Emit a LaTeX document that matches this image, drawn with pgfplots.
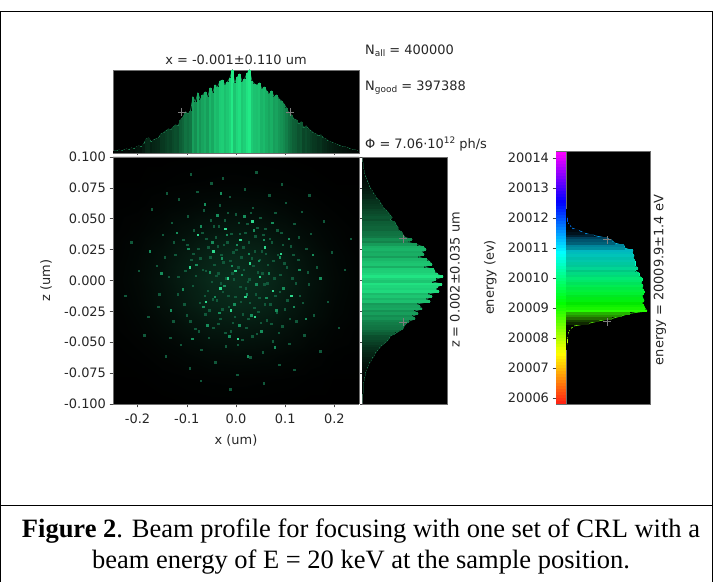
\documentclass[border=0pt]{standalone}
\usepackage{fontspec}
\setmainfont{DejaVu Sans}
\newfontfamily\capfont{Liberation Serif}
\usepackage{pgfplots}
\usepackage{pgfplotstable}
\pgfplotsset{compat=1.18}
\definecolor{spine}{RGB}{110,110,110}
\definecolor{tk}{RGB}{70,70,70}
\definecolor{outl}{RGB}{28,135,85}
\definecolor{speckA}{RGB}{16,88,58}
\definecolor{speckB}{RGB}{22,140,90}
\definecolor{speckC}{RGB}{45,215,140}
\definecolor{crossc}{RGB}{125,125,125}
\pgfdeclareplotmark{vbar}{\pgfpathrectangle{\pgfpoint{-1.35bp}{-\barlen bp}}{\pgfpoint{2.7bp}{\barlen bp}}\pgfusepathqfill}
\pgfdeclareplotmark{hbar}{\pgfpathrectangle{\pgfpoint{-\barlen bp}{-1.35bp}}{\pgfpoint{\barlen bp}{2.7bp}}\pgfusepathqfill}
\pgfdeclareplotmark{ebar}{\pgfpathrectangle{\pgfpoint{-\barlen bp}{-1.45bp}}{\pgfpoint{\barlen bp}{2.9bp}}\pgfusepathqfill}
\pgfplotstableread[row sep=\\]{x n\\
-0.2475 2\\-0.2425 2\\-0.2375 3\\-0.2325 2\\-0.2275 3\\-0.2225 4\\-0.2175 3\\-0.2125 5\\-0.2075 4\\-0.2025 6\\
-0.1975 7\\-0.1925 6\\-0.1875 9\\-0.1825 14\\-0.1775 15\\-0.1725 11\\-0.1675 13\\-0.1625 14\\-0.1575 15\\-0.1525 19\\
-0.1475 20\\-0.1425 22\\-0.1375 24\\-0.1325 23\\-0.1275 26\\-0.1225 28\\-0.1175 27\\-0.1125 33\\-0.1075 36\\-0.1025 41\\
-0.0975 39\\-0.0925 42\\-0.0875 56\\-0.0825 51\\-0.0775 60\\-0.0725 53\\-0.0675 58\\-0.0625 61\\-0.0575 56\\-0.0525 65\\
-0.0475 60\\-0.0425 68\\-0.0375 66\\-0.0325 72\\-0.0275 73\\-0.0225 68\\-0.0175 71\\-0.0125 75\\-0.0075 83\\-0.0025 70\\
0.0025 76\\0.0075 79\\0.0125 71\\0.0175 74\\0.0225 80\\0.0275 83\\0.0325 72\\0.0375 69\\0.0425 68\\0.0475 70\\
0.0525 64\\0.0575 66\\0.0625 62\\0.0675 59\\0.0725 62\\0.0775 56\\0.0825 58\\0.0875 54\\0.0925 52\\0.0975 49\\
0.1025 45\\0.1075 40\\0.1125 38\\0.1175 34\\0.1225 33\\0.1275 29\\0.1325 31\\0.1375 25\\0.1425 27\\0.1475 24\\
0.1525 22\\0.1575 20\\0.1625 19\\0.1675 17\\0.1725 18\\0.1775 15\\0.1825 14\\0.1875 12\\0.1925 11\\0.1975 10\\
0.2025 9\\0.2075 8\\0.2125 7\\0.2175 6\\0.2225 6\\0.2275 5\\0.2325 4\\0.2375 3\\0.2425 3\\0.2475 2\\
}\tophist
\pgfplotstableread[row sep=\\]{z n\\
0.099 0\\0.097 0\\0.095 1\\0.093 1\\0.091 1\\0.089 2\\0.087 2\\0.085 3\\0.083 4\\0.081 5\\
0.079 6\\0.077 7\\0.075 8\\0.073 10\\0.071 11\\0.069 13\\0.067 14\\0.065 17\\0.063 18\\0.061 20\\
0.059 21\\0.057 24\\0.055 26\\0.053 28\\0.051 30\\0.049 28\\0.047 33\\0.045 34\\0.043 36\\0.041 36\\
0.039 40\\0.037 41\\0.035 43\\0.033 50\\0.031 46\\0.029 55\\0.027 62\\0.025 64\\0.023 60\\0.021 62\\
0.019 56\\0.017 65\\0.015 68\\0.013 70\\0.011 62\\0.009 72\\0.007 73\\0.005 76\\0.003 81\\0.001 74\\
-0.001 70\\-0.003 80\\-0.005 76\\-0.007 74\\-0.009 77\\-0.011 66\\-0.013 70\\-0.015 64\\-0.017 68\\-0.019 55\\
-0.021 58\\-0.023 60\\-0.025 52\\-0.027 56\\-0.029 50\\-0.031 53\\-0.033 47\\-0.035 44\\-0.037 42\\-0.039 41\\
-0.041 37\\-0.043 33\\-0.045 28\\-0.047 27\\-0.049 25\\-0.051 22\\-0.053 19\\-0.055 17\\-0.057 15\\-0.059 13\\
-0.061 12\\-0.063 10\\-0.065 9\\-0.067 7\\-0.069 6\\-0.071 5\\-0.073 4\\-0.075 3\\-0.077 3\\-0.079 2\\
-0.081 2\\-0.083 1\\-0.085 1\\-0.087 1\\-0.089 1\\-0.091 1\\-0.093 0\\-0.095 0\\-0.097 0\\-0.099 0\\
}\righthist
\pgfplotstableread[row sep=\\]{E n\\
20007.65 0.5\\20007.73 0.5\\20007.82 1\\20007.90 1\\20007.98 1\\20008.07 1.5\\20008.15 2\\20008.24 3\\20008.32 5\\20008.40 8\\
20008.49 23\\20008.57 33\\20008.65 46\\20008.74 56\\20008.82 64\\20008.90 81\\20008.99 79\\20009.07 78\\20009.15 76\\20009.24 78\\
20009.32 77\\20009.41 76\\20009.49 78\\20009.57 78\\20009.66 76\\20009.74 77\\20009.82 75\\20009.91 76\\20009.99 76\\20010.07 73\\
20010.16 73\\20010.24 69\\20010.32 72\\20010.41 69\\20010.49 69\\20010.58 69\\20010.66 67\\20010.74 68\\20010.83 66\\20010.91 67\\
20010.99 59\\20011.08 58\\20011.16 49\\20011.24 46\\20011.33 41\\20011.41 28\\20011.49 19\\20011.58 13\\20011.66 6\\20011.75 4\\
20011.83 2\\20011.91 1\\20012.00 1\\20012.08 0.5\\20012.16 0.5\\20012.25 0.3\\
}\ehist
\pgfplotstableread[row sep=\\]{E L\\
20005.85 10\\20005.95 10\\20006.05 10\\20006.15 10\\20006.25 10\\20006.35 10\\20006.45 10\\20006.55 10\\20006.65 10\\20006.75 10\\20006.85 10\\20006.95 10\\
20007.05 10\\20007.15 10\\20007.25 10\\20007.35 10\\20007.45 10\\20007.55 10\\20007.65 10\\20007.75 10\\20007.85 10\\20007.95 10\\20008.05 10\\20008.15 10\\
20008.25 10\\20008.35 10\\20008.45 10\\20008.55 10\\20008.65 10\\20008.75 10\\20008.85 10\\20008.95 10\\20009.05 10\\20009.15 10\\20009.25 10\\20009.35 10\\
20009.45 10\\20009.55 10\\20009.65 10\\20009.75 10\\20009.85 10\\20009.95 10\\20010.05 10\\20010.15 10\\20010.25 10\\20010.35 10\\20010.45 10\\20010.55 10\\
20010.65 10\\20010.75 10\\20010.85 10\\20010.95 10\\20011.05 10\\20011.15 10\\20011.25 10\\20011.35 10\\20011.45 10\\20011.55 10\\20011.65 10\\20011.75 10\\
20011.85 10\\20011.95 10\\20012.05 10\\20012.15 10\\20012.25 10\\20012.35 10\\20012.45 10\\20012.55 10\\20012.65 10\\20012.75 10\\20012.85 10\\20012.95 10\\
20013.05 10\\20013.15 10\\20013.25 10\\20013.35 10\\20013.45 10\\20013.55 10\\20013.65 10\\20013.75 10\\20013.85 10\\20013.95 10\\20014.05 10\\20014.15 10\\
}\estrip
\pgfplotsset{
  base/.style={scale only axis, axis background/.style={fill=black},
    axis line style={spine, line width=0.8pt},
    tick style={tk, line width=0.6pt},
    tick align=outside, major tick length=3.5bp,
    xtick pos=bottom, ytick pos=left,
    tick label style={font=\fontsize{13}{15}\selectfont, text=black!85},
    label style={font=\fontsize{13}{15}\selectfont, text=black!85},
    /pgf/number format/assume math mode=true,
    colormap={gr}{rgb255=(0,0,0) rgb255=(34,235,135)},
    colormap={bg}{rgb255=(0,0,0) rgb255=(9,46,29)},
    colormap={rb}{rgb255=(255,30,20) rgb255=(255,255,0) rgb255=(0,255,0) rgb255=(0,255,255) rgb255=(0,0,255) rgb255=(255,0,255)},
  },
  bars/.style={scatter, only marks, mark=#1, point meta=\thisrow{n},
    point meta min=0, point meta max=84,
    visualization depends on={\thisrow{n} \as \barlen},
    scatter/use mapped color={draw=none, fill=mapped color}},
  speck/.style={only marks, mark=square*, mark size=0.75bp, mark options={draw=#1,fill=#1,line width=0.1pt}},
}
\begin{document}
\begin{tikzpicture}[x=1bp,y=1bp]
\path[use as bounding box] (0,0) rectangle (713,582);
\fill[white] (0,0) rectangle (713,582);
% main scatter
\begin{axis}[base, at={(113bp,178bp)}, anchor=south west, width=246bp, height=247bp,
  xmin=-0.25, xmax=0.25, ymin=-0.1, ymax=0.1,
  xtick={-0.2,-0.1,0,0.1,0.2}, xticklabels={-0.2,-0.1,0.0,0.1,0.2},
  xticklabel style={yshift=-2.5bp},
  ytick={-0.1,-0.075,-0.05,-0.025,0,0.025,0.05,0.075,0.1},
  yticklabels={-0.100,-0.075,-0.050,-0.025,0.000,0.025,0.050,0.075,0.100},
  xlabel={x (um)}, ylabel={z (um)},
  xlabel style={at={(axis description cs:0.5,-0.146)},anchor=center},
  ylabel style={at={(axis description cs:-0.272,0.5)},anchor=center},
  colormap name=bg, view={0}{90}]
\addplot3[surf, shader=interp, mesh/rows=11, point meta=z] table[row sep=\\]{x y z\\
-0.25 -0.1 0\\-0.2 -0.1 0\\-0.15 -0.1 0\\-0.1 -0.1 1\\-0.05 -0.1 2\\0 -0.1 2\\0.05 -0.1 2\\0.1 -0.1 1\\0.15 -0.1 0\\0.2 -0.1 0\\0.25 -0.1 0\\
-0.25 -0.08 1\\-0.2 -0.08 1\\-0.15 -0.08 3\\-0.1 -0.08 5\\-0.05 -0.08 6\\0 -0.08 7\\0.05 -0.08 6\\0.1 -0.08 5\\0.15 -0.08 3\\0.2 -0.08 1\\0.25 -0.08 1\\
-0.25 -0.06 2\\-0.2 -0.06 4\\-0.15 -0.06 9\\-0.1 -0.06 15\\-0.05 -0.06 21\\0 -0.06 23\\0.05 -0.06 21\\0.1 -0.06 15\\0.15 -0.06 9\\0.2 -0.06 4\\0.25 -0.06 2\\
-0.25 -0.04 4\\-0.2 -0.04 10\\-0.15 -0.04 20\\-0.1 -0.04 34\\-0.05 -0.04 47\\0 -0.04 52\\0.05 -0.04 47\\0.1 -0.04 34\\0.15 -0.04 20\\0.2 -0.04 10\\0.25 -0.04 4\\
-0.25 -0.02 6\\-0.2 -0.02 16\\-0.15 -0.02 33\\-0.1 -0.02 56\\-0.05 -0.02 77\\0 -0.02 85\\0.05 -0.02 77\\0.1 -0.02 56\\0.15 -0.02 33\\0.2 -0.02 16\\0.25 -0.02 6\\
-0.25 0 8\\-0.2 0 19\\-0.15 0 39\\-0.1 0 66\\-0.05 0 90\\0 0 100\\0.05 0 90\\0.1 0 66\\0.15 0 39\\0.2 0 19\\0.25 0 8\\
-0.25 0.02 6\\-0.2 0.02 16\\-0.15 0.02 33\\-0.1 0.02 56\\-0.05 0.02 77\\0 0.02 85\\0.05 0.02 77\\0.1 0.02 56\\0.15 0.02 33\\0.2 0.02 16\\0.25 0.02 6\\
-0.25 0.04 4\\-0.2 0.04 10\\-0.15 0.04 20\\-0.1 0.04 34\\-0.05 0.04 47\\0 0.04 52\\0.05 0.04 47\\0.1 0.04 34\\0.15 0.04 20\\0.2 0.04 10\\0.25 0.04 4\\
-0.25 0.06 2\\-0.2 0.06 4\\-0.15 0.06 9\\-0.1 0.06 15\\-0.05 0.06 21\\0 0.06 23\\0.05 0.06 21\\0.1 0.06 15\\0.15 0.06 9\\0.2 0.06 4\\0.25 0.06 2\\
-0.25 0.08 1\\-0.2 0.08 1\\-0.15 0.08 3\\-0.1 0.08 5\\-0.05 0.08 6\\0 0.08 7\\0.05 0.08 6\\0.1 0.08 5\\0.15 0.08 3\\0.2 0.08 1\\0.25 0.08 1\\
-0.25 0.1 0\\-0.2 0.1 0\\-0.15 0.1 0\\-0.1 0.1 1\\-0.05 0.1 2\\0 0.1 2\\0.05 0.1 2\\0.1 0.1 1\\0.15 0.1 0\\0.2 0.1 0\\0.25 0.1 0\\
};
\addplot3[speck=speckA] table[row sep=\\,z expr=1]{x y\\
-0.213 0.031\\-0.187 -0.044\\-0.172 0.058\\-0.161 0.012\\-0.158 -0.021\\-0.149 0.037\\-0.143 -0.061\\-0.137 0.003\\-0.131 0.047\\-0.128 -0.033\\
-0.124 0.021\\-0.119 -0.011\\-0.117 0.066\\-0.113 -0.052\\-0.108 0.033\\-0.104 0.008\\-0.101 -0.028\\-0.098 0.052\\-0.094 -0.071\\-0.091 0.017\\
-0.088 -0.004\\-0.086 0.041\\-0.083 -0.039\\-0.079 0.072\\-0.077 0.026\\-0.074 -0.018\\-0.071 -0.056\\-0.068 0.009\\-0.066 0.057\\-0.063 -0.027\\
-0.061 0.034\\-0.058 -0.008\\-0.056 -0.046\\-0.053 0.019\\-0.051 0.079\\-0.048 -0.015\\-0.046 0.044\\-0.043 -0.066\\-0.041 0.004\\-0.038 0.028\\
-0.036 -0.035\\-0.033 0.061\\-0.031 -0.002\\-0.028 -0.023\\-0.026 0.015\\-0.023 0.049\\-0.021 -0.053\\-0.018 0.031\\-0.016 -0.012\\-0.013 0.068\\
-0.011 -0.041\\-0.008 0.006\\-0.006 0.023\\-0.003 -0.029\\-0.001 0.054\\0.002 -0.076\\0.004 0.011\\0.007 0.038\\0.009 -0.017\\0.012 -0.048\\
0.014 0.027\\0.017 0.074\\0.019 -0.006\\0.022 0.046\\0.024 -0.031\\0.027 0.001\\0.029 -0.062\\0.032 0.018\\0.034 0.059\\0.037 -0.022\\
0.039 0.036\\0.042 -0.043\\0.044 0.007\\0.047 -0.014\\0.049 0.051\\0.052 0.024\\0.054 -0.058\\0.057 -0.003\\0.059 0.042\\0.062 -0.032\\
0.064 0.013\\0.067 0.069\\0.069 -0.019\\0.072 0.031\\0.074 -0.049\\0.077 0.002\\0.079 0.055\\0.082 -0.026\\0.084 0.021\\0.087 -0.068\\
0.089 -0.009\\0.092 0.039\\0.094 -0.037\\0.098 0.014\\0.101 0.063\\0.104 -0.016\\0.108 -0.051\\0.111 0.028\\0.114 0.002\\0.118 0.046\\
0.122 -0.033\\0.126 0.017\\0.129 -0.012\\0.133 0.056\\0.138 -0.044\\0.142 0.026\\0.147 -0.003\\0.152 0.038\\0.158 -0.028\\0.164 0.011\\
0.171 -0.057\\0.178 0.048\\0.186 -0.017\\0.194 0.023\\0.208 -0.038\\0.221 0.009\\-0.226 -0.012\\-0.198 0.008\\-0.179 -0.029\\0.233 0.034\\
-0.092 0.086\\-0.027 0.083\\0.041 0.088\\0.093 0.078\\-0.072 -0.081\\-0.012 -0.088\\0.056 -0.083\\0.118 -0.072\\-0.141 0.071\\0.148 0.069\\
-0.118 0.003\\-0.106 -0.019\\-0.099 0.029\\-0.093 -0.033\\-0.087 0.022\\-0.082 0.004\\-0.076 -0.041\\-0.073 0.018\\-0.069 0.039\\-0.064 -0.012\\
-0.062 0.008\\-0.057 0.027\\-0.055 -0.024\\-0.052 0.049\\-0.05 -0.001\\-0.047 -0.038\\-0.045 0.013\\-0.042 0.035\\-0.04 -0.016\\-0.037 0.006\\
-0.035 0.044\\-0.032 -0.031\\-0.03 0.021\\-0.027 -0.009\\-0.025 0.029\\-0.022 -0.042\\-0.02 0.002\\-0.017 0.055\\-0.015 -0.021\\-0.012 0.016\\
-0.01 0.038\\-0.007 -0.034\\-0.005 0.001\\-0.002 -0.013\\0 0.025\\0.003 -0.052\\0.005 0.047\\0.008 -0.005\\0.01 0.019\\0.013 -0.027\\
0.015 0.009\\0.018 0.039\\0.02 -0.038\\0.023 -0.001\\0.025 0.031\\0.028 -0.018\\0.03 0.055\\0.033 -0.045\\0.035 0.012\\0.038 0.024\\
0.04 -0.011\\0.043 0.043\\0.045 -0.025\\0.048 0.017\\0.05 -0.034\\0.053 0.006\\0.055 0.037\\0.058 -0.019\\0.06 0.022\\0.063 -0.002\\
0.068 0.034\\0.071 -0.035\\0.075 0.016\\0.079 -0.012\\0.083 0.041\\0.086 -0.042\\0.09 0.005\\0.095 0.029\\0.099 -0.023\\0.103 0.011\\
0.109 -0.031\\0.116 0.021\\0.121 -0.002\\0.127 0.035\\0.135 -0.018\\0.145 0.007\\-0.156 -0.011\\-0.145 0.019\\-0.134 -0.046\\-0.127 0.031\\
};
\addplot3[speck=speckB] table[row sep=\\,z expr=1]{x y\\
-0.152 0.006\\-0.133 -0.024\\-0.121 0.039\\-0.109 -0.007\\-0.097 0.026\\-0.089 -0.047\\-0.081 0.013\\-0.072 0.044\\-0.067 -0.021\\-0.059 -0.036\\
-0.054 0.007\\-0.049 0.031\\-0.044 -0.013\\-0.039 0.053\\-0.034 -0.026\\-0.029 0.018\\-0.024 -0.004\\-0.019 0.037\\-0.014 -0.045\\-0.009 0.012\\
-0.004 -0.019\\0.001 0.029\\0.006 -0.036\\0.011 0.005\\0.016 0.052\\0.021 -0.011\\0.026 0.022\\0.031 -0.028\\0.036 0.041\\0.041 -0.003\\
0.046 0.016\\0.051 -0.041\\0.056 0.033\\0.061 -0.014\\0.066 0.006\\0.073 0.047\\0.081 -0.024\\0.088 0.019\\0.096 -0.006\\0.107 0.034\\
0.117 -0.021\\0.128 0.009\\0.141 -0.031\\0.156 0.021\\-0.176 0.024\\0.171 0.002\\-0.064 0.062\\0.023 -0.061\\0.078 -0.054\\-0.031 0.071\\
};
\addplot3[speck=speckC] table[row sep=\\,z expr=1]{x y\\
-0.094 0.011\\-0.062 -0.017\\-0.047 0.024\\-0.032 -0.006\\-0.022 0.042\\-0.011 -0.024\\-0.002 0.008\\0.008 0.033\\0.018 -0.013\\0.028 0.014\\
0.038 -0.029\\0.048 0.003\\0.058 0.027\\0.074 -0.008\\0.091 0.022\\-0.078 0.037\\0.003 -0.047\\-0.017 0.002\\0.033 0.048\\0.112 -0.012\\
};
\end{axis}
% top histogram
\begin{axis}[base, at={(113bp,429bp)}, anchor=south west, width=246bp, height=83bp,
  xmin=-0.25, xmax=0.25, ymin=0, ymax=83,
  xtick={-0.2,-0.1,0,0.1,0.2}, xticklabels={}, ytick=\empty, colormap name=gr,
  major tick length=2bp,
  title={x = -0.001±0.110 um}, title style={font=\fontsize{13}{15}\selectfont, text=black!85, yshift=-4bp}]
\addplot[bars=vbar] table[x=x,y=n] {\tophist};
\addplot[draw=outl, line width=0.7pt, mark=none] table[x=x,y=n] {\tophist};
\addplot[only marks, mark=+, mark size=4bp, mark options={crossc, line width=0.8pt}] coordinates {(-0.11,41) (0.11,41)};
\end{axis}
% right histogram
\begin{axis}[base, at={(362bp,178bp)}, anchor=south west, width=85bp, height=247bp,
  xmin=0, xmax=85, ymin=-0.1, ymax=0.1,
  xtick=\empty, ytick={-0.1,-0.075,-0.05,-0.025,0,0.025,0.05,0.075,0.1}, yticklabels={},
  colormap name=gr, major tick length=2bp]
\addplot[bars=hbar] table[x=n,y=z] {\righthist};
\addplot[draw=outl, line width=0.7pt, mark=none] table[x=n,y=z] {\righthist};
\addplot[only marks, mark=+, mark size=4bp, mark options={crossc, line width=0.8pt}] coordinates {(41,0.034) (41,-0.034)};
\end{axis}
% energy histogram with colour strip
\begin{axis}[base, at={(556bp,178bp)}, anchor=south west, width=94bp, height=253bp,
  xmin=-10, xmax=84, ymin=20005.8, ymax=20014.23,
  scaled y ticks=false,
  xtick=\empty, ytick={20006,20007,20008,20009,20010,20011,20012,20013,20014},
  yticklabels={20006,20007,20008,20009,20010,20011,20012,20013,20014},
  ylabel={energy (ev)},
  ylabel style={at={(axis description cs:-0.70,0.5)},anchor=center},
  colormap name=rb]
\addplot[scatter, only marks, mark=ebar, point meta=y, point meta min=20005.8, point meta max=20014.2,
  visualization depends on={\thisrow{L} \as \barlen},
  scatter/use mapped color={draw=none, fill=mapped color}] table[x expr=0,y=E] {\estrip};
\addplot[scatter, only marks, mark=ebar, point meta=y, point meta min=20005.8, point meta max=20014.2,
  visualization depends on={\thisrow{n} \as \barlen},
  visualization depends on={(\thisrow{n}/81)^1.5*100 \as \bri},
  scatter/use mapped color={draw=none, fill=mapped color!\bri!black}] table[x=n,y=E] {\ehist};
\addplot[mesh, line width=0.6pt, point meta=y, point meta min=20005.8, point meta max=20014.2] table[x=n,y=E] {\ehist};
\draw[spine, line width=0.6pt] (axis cs:0,20005.8) -- (axis cs:0,20014.23);
\addplot[only marks, mark=+, mark size=4bp, mark options={crossc, line width=0.8pt}] coordinates {(41,20011.27) (41,20008.54)};
\end{axis}
% annotations
\begin{scope}[every node/.style={font=\fontsize{13}{15}\selectfont, text=black!85, inner sep=0pt}]
\node[anchor=west] at (365,531) {N{\fontsize{9}{10}\selectfont\raisebox{-2bp}{all}} = 400000};
\node[anchor=west] at (365,494) {N{\fontsize{9}{10}\selectfont\raisebox{-2bp}{good}} = 397388};
\node[anchor=west] at (365,438) {Φ = 7.06·10{\fontsize{9}{10}\selectfont\raisebox{4.5bp}{12}} ph/s};
\node[rotate=90] at (455,302) {z = 0.002±0.035 um};
\node[rotate=90] at (660,302) {energy = 20009.9±1.4 eV};
\end{scope}
% page frame and caption
\draw[black, line width=0.9pt] (0.6,0) -- (0.6,571) -- (712.4,571) -- (712.4,0);
\draw[black, line width=0.9pt] (0,77) -- (713,77);
\node[font=\capfont\fontsize{26.6}{32}\selectfont, align=center, inner sep=0pt] at (361,35.5)
  {\textbf{Figure 2}. Beam profile for focusing with one set of CRL with a\\beam energy of E = 20 keV at the sample position.};
\end{tikzpicture}
\end{document}
